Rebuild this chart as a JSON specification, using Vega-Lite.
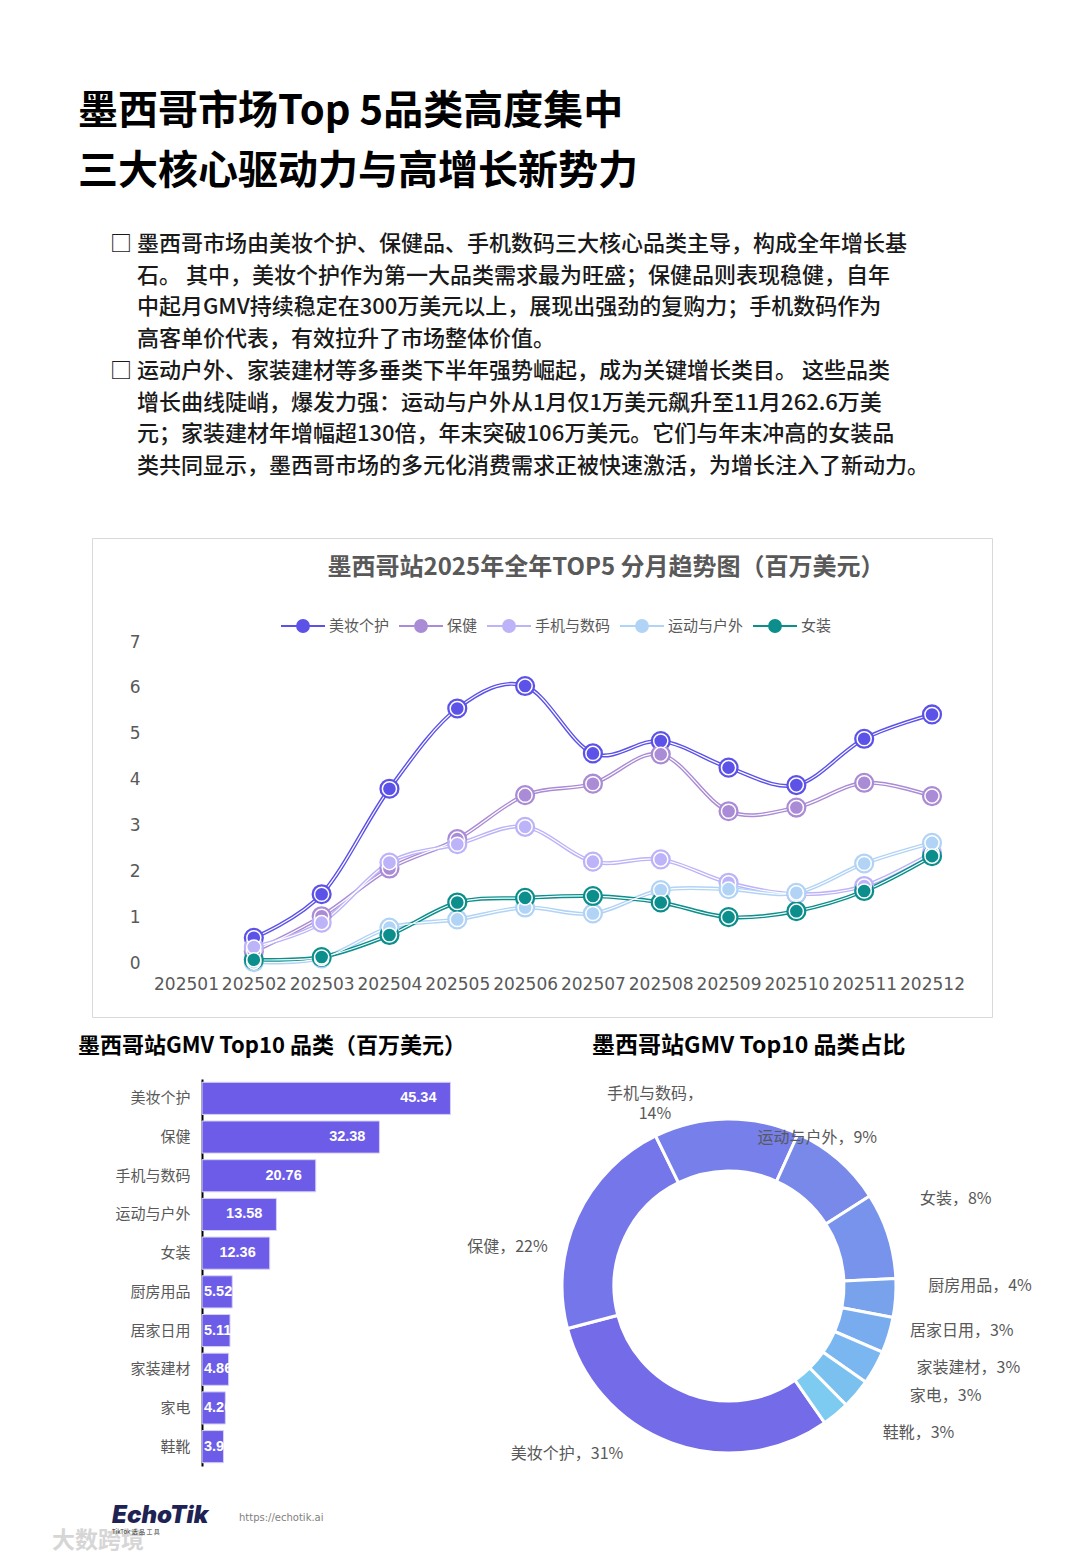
{
  "$schema": "https://vega.github.io/schema/vega-lite/v6.json",
  "background": "white",
  "padding": 0,
  "spacing": 0,
  "config": {
    "view": {"stroke": null},
    "font": "Noto Sans CJK SC",
    "title": {"font": "Noto Sans CJK SC", "subtitleFont": "Noto Sans CJK SC"},
    "axis": {"labelFont": "Noto Sans CJK SC"},
    "legend": {"labelFont": "Noto Sans CJK SC"},
    "text": {"fontSize": 16, "color": "#595959", "align": "center", "baseline": "middle"}
  },
  "datasets": {
    "lines": [
      {"month": "202502", "series": "美妆个护", "value": 0.55},
      {"month": "202503", "series": "美妆个护", "value": 1.5},
      {"month": "202504", "series": "美妆个护", "value": 3.8},
      {"month": "202505", "series": "美妆个护", "value": 5.55},
      {"month": "202506", "series": "美妆个护", "value": 6.04},
      {"month": "202507", "series": "美妆个护", "value": 4.57},
      {"month": "202508", "series": "美妆个护", "value": 4.84},
      {"month": "202509", "series": "美妆个护", "value": 4.26},
      {"month": "202510", "series": "美妆个护", "value": 3.88},
      {"month": "202511", "series": "美妆个护", "value": 4.89},
      {"month": "202512", "series": "美妆个护", "value": 5.42},
      {"month": "202502", "series": "保健", "value": 0.25},
      {"month": "202503", "series": "保健", "value": 1.02},
      {"month": "202504", "series": "保健", "value": 2.06},
      {"month": "202505", "series": "保健", "value": 2.7},
      {"month": "202506", "series": "保健", "value": 3.66},
      {"month": "202507", "series": "保健", "value": 3.91},
      {"month": "202508", "series": "保健", "value": 4.55},
      {"month": "202509", "series": "保健", "value": 3.31},
      {"month": "202510", "series": "保健", "value": 3.39},
      {"month": "202511", "series": "保健", "value": 3.93},
      {"month": "202512", "series": "保健", "value": 3.64},
      {"month": "202502", "series": "手机与数码", "value": 0.35},
      {"month": "202503", "series": "手机与数码", "value": 0.88},
      {"month": "202504", "series": "手机与数码", "value": 2.19},
      {"month": "202505", "series": "手机与数码", "value": 2.59},
      {"month": "202506", "series": "手机与数码", "value": 2.97},
      {"month": "202507", "series": "手机与数码", "value": 2.21},
      {"month": "202508", "series": "手机与数码", "value": 2.26},
      {"month": "202509", "series": "手机与数码", "value": 1.75},
      {"month": "202510", "series": "手机与数码", "value": 1.5},
      {"month": "202511", "series": "手机与数码", "value": 1.68},
      {"month": "202512", "series": "手机与数码", "value": 2.4},
      {"month": "202502", "series": "运动与户外", "value": 0.02},
      {"month": "202503", "series": "运动与户外", "value": 0.1},
      {"month": "202504", "series": "运动与户外", "value": 0.77},
      {"month": "202505", "series": "运动与户外", "value": 0.95},
      {"month": "202506", "series": "运动与户外", "value": 1.21},
      {"month": "202507", "series": "运动与户外", "value": 1.08},
      {"month": "202508", "series": "运动与户外", "value": 1.59},
      {"month": "202509", "series": "运动与户外", "value": 1.61},
      {"month": "202510", "series": "运动与户外", "value": 1.53},
      {"month": "202511", "series": "运动与户外", "value": 2.17},
      {"month": "202512", "series": "运动与户外", "value": 2.62},
      {"month": "202502", "series": "女装", "value": 0.07},
      {"month": "202503", "series": "女装", "value": 0.13},
      {"month": "202504", "series": "女装", "value": 0.61},
      {"month": "202505", "series": "女装", "value": 1.32},
      {"month": "202506", "series": "女装", "value": 1.42},
      {"month": "202507", "series": "女装", "value": 1.46},
      {"month": "202508", "series": "女装", "value": 1.32},
      {"month": "202509", "series": "女装", "value": 1.0},
      {"month": "202510", "series": "女装", "value": 1.13},
      {"month": "202511", "series": "女装", "value": 1.57},
      {"month": "202512", "series": "女装", "value": 2.33}
    ],
    "top10": [
      {"category": "美妆个护", "gmv": 45.34, "label": "美妆个护，31%"},
      {"category": "保健", "gmv": 32.38, "label": "保健，22%"},
      {"category": "手机与数码", "gmv": 20.76, "label": "手机与数码，\n14%"},
      {"category": "运动与户外", "gmv": 13.58, "label": "运动与户外，9%"},
      {"category": "女装", "gmv": 12.36, "label": "女装，8%"},
      {"category": "厨房用品", "gmv": 5.52, "label": "厨房用品，4%"},
      {"category": "居家日用", "gmv": 5.11, "label": "居家日用，3%"},
      {"category": "家装建材", "gmv": 4.86, "label": "家装建材，3%"},
      {"category": "家电", "gmv": 4.26, "label": "家电，3%"},
      {"category": "鞋靴", "gmv": 3.92, "label": "鞋靴，3%"}
    ]
  },
  "vconcat": [
    {
      "width": 1080,
      "height": 200,
      "data": {"values": [{}]},
      "mark": {"type": "point", "opacity": 0},
      "title": {
        "text": ["墨西哥市场Top 5品类高度集中", "三大核心驱动力与高增长新势力"],
        "anchor": "start", "frame": "group", "dx": 78, "offset": -192,
        "fontSize": 40, "fontWeight": "bold", "lineHeight": 60, "color": "#000000"
      }
    },
    {
      "width": 1080,
      "height": 337,
      "data": {"values": [{}]},
      "mark": {"type": "point", "opacity": 0},
      "title": {
        "text": [
          "□ 墨西哥市场由美妆个护、保健品、手机数码三大核心品类主导，构成全年增长基",
          "\u200b\u3000 石。 其中，美妆个护作为第一大品类需求最为旺盛；保健品则表现稳健，自年",
          "\u200b\u3000 中起月GMV持续稳定在300万美元以上，展现出强劲的复购力；手机数码作为",
          "\u200b\u3000 高客单价代表，有效拉升了市场整体价值。",
          "□ 运动户外、家装建材等多垂类下半年强势崛起，成为关键增长类目。 这些品类",
          "\u200b\u3000 增长曲线陡峭，爆发力强：运动与户外从1月仅1万美元飙升至11月262.6万美",
          "\u200b\u3000 元；家装建材年增幅超130倍，年末突破106万美元。它们与年末冲高的女装品",
          "\u200b\u3000 类共同显示，墨西哥市场的多元化消费需求正被快速激活，为增长注入了新动力。"
        ],
        "anchor": "start", "frame": "group", "dx": 110, "offset": -278,
        "fontSize": 22, "fontWeight": 500, "lineHeight": 31.7, "color": "#1a1a1a"
      }
    },
    {
      "bounds": "flush",
      "spacing": 0,
      "hconcat": [
        {
          "width": 92, "height": 497,
          "data": {"values": [{}]},
          "mark": {"type": "point", "opacity": 0}
        },
        {
          "width": 900,
          "height": 479,
          "view": {"stroke": "#d9d9d9", "strokeWidth": 1},
          "data": {"name": "lines"},
          "title": {
            "text": "墨西哥站2025年全年TOP5 分月趋势图（百万美元）",
            "anchor": "middle", "frame": "group", "dx": 64, "offset": -42,
            "fontSize": 24, "fontWeight": "bold", "color": "#595959"
          },
          "encoding": {
            "x": {
              "field": "month", "type": "ordinal",
              "scale": {"type": "point", "domain": ["202501", "202502", "202503", "202504", "202505", "202506", "202507", "202508", "202509", "202510", "202511", "202512"], "range": [94, 840], "padding": 0},
              "axis": {"orient": "bottom", "offset": -43, "title": null, "labelAngle": 0, "labelFont": "DejaVu Sans", "labelFontSize": 17, "labelColor": "#595959", "domain": false, "ticks": false, "grid": false, "labelPadding": 2, "labelOverlap": false}
            },
            "y": {
              "field": "value", "type": "quantitative",
              "scale": {"domain": [0, 7], "range": [425, 104], "nice": false, "zero": false},
              "axis": {"offset": -52, "values": [0, 1, 2, 3, 4, 5, 6, 7], "title": null, "labelFont": "DejaVu Sans", "labelFontSize": 17, "labelColor": "#595959", "domain": false, "ticks": false, "grid": false, "labelPadding": 4}
            }
          },
          "layer": [
            {
              "mark": {"type": "line", "interpolate": "cardinal", "strokeWidth": 4},
              "encoding": {
                "stroke": {
                  "field": "series", "type": "nominal",
                  "scale": {"domain": ["美妆个护", "保健", "手机与数码", "运动与户外", "女装"], "range": ["#5D52E8", "#AA8BD5", "#BCB3F8", "#B1D3F6", "#0B8E8C"]},
                  "legend": {"orient": "none", "legendX": 280, "legendY": 603, "direction": "horizontal", "title": null, "symbolType": "M-1,0H-0.27M0.27,0H1M0.27,0A0.27,0.27,0,1,1,-0.27,0A0.27,0.27,0,1,1,0.27,0Z", "symbolSize": 1936, "symbolStrokeWidth": 2, "labelOffset": 3, "columnPadding": 5, "labelFontSize": 15, "labelColor": "#595959"}
                }
              }
            },
            {
              "mark": {"type": "line", "interpolate": "cardinal", "strokeWidth": 1.2},
              "encoding": {
                "stroke": {"value": "white"},
                "detail": {"field": "series", "type": "nominal"}
              }
            },
            {
              "mark": {"type": "point", "filled": true, "size": 330, "opacity": 1},
              "encoding": {
                "fill": {
                  "field": "series", "type": "nominal",
                  "scale": {"domain": ["美妆个护", "保健", "手机与数码", "运动与户外", "女装"], "range": ["#5D52E8", "#AA8BD5", "#BCB3F8", "#B1D3F6", "#0B8E8C"]},
                  "legend": {"orient": "none", "legendX": 280, "legendY": 603, "direction": "horizontal", "title": null, "symbolType": "M-1,0H-0.27M0.27,0H1M0.27,0A0.27,0.27,0,1,1,-0.27,0A0.27,0.27,0,1,1,0.27,0Z", "symbolSize": 1936, "symbolStrokeWidth": 2, "labelOffset": 3, "columnPadding": 5, "labelFontSize": 15, "labelColor": "#595959"}
                },
                "stroke": {"field": "series", "type": "nominal"}
              }
            },
            {
              "mark": {"type": "point", "filled": true, "size": 200, "opacity": 1, "strokeWidth": 1.5},
              "encoding": {
                "fill": {"field": "series", "type": "nominal"},
                "stroke": {"value": "white"}
              }
            }
          ]
        }
      ]
    },
    {
      "bounds": "flush",
      "spacing": 0,
      "hconcat": [
        {
          "width": 202, "height": 414,
          "data": {"values": [{}]},
          "mark": {"type": "point", "opacity": 0}
        },
        {
          "width": 274,
          "height": 387,
          "data": {"name": "top10"},
          "title": {
            "text": "墨西哥站GMV Top10 品类（百万美元）",
            "anchor": "start", "frame": "group", "dx": -124, "offset": 21,
            "fontSize": 22, "fontWeight": "bold", "color": "#000000"
          },
          "encoding": {
            "y": {
              "field": "category", "type": "nominal", "sort": null,
              "scale": {"paddingInner": 0.17, "paddingOuter": 0.085},
              "axis": {"title": null, "labelFontSize": 15, "labelColor": "#595959", "labelPadding": 12, "ticks": false, "domainColor": "#000000", "domainWidth": 2}
            },
            "x": {"field": "gmv", "type": "quantitative", "scale": {"domain": [0, 50], "nice": false}, "axis": null}
          },
          "layer": [
            {"mark": {"type": "bar", "color": "#6C5CE7", "stroke": "#D6D0F7", "strokeWidth": 1}},
            {
              "mark": {"type": "text", "align": "right", "baseline": "middle", "dx": -14, "color": "white", "fontSize": 14.5, "fontWeight": "bold", "clip": true, "font": "Liberation Sans"},
              "encoding": {"text": {"condition": {"test": "datum.gmv > 10", "field": "gmv", "type": "quantitative", "format": ".2f"}, "value": ""}}
            },
            {
              "mark": {"type": "text", "align": "left", "baseline": "middle", "dx": 2, "color": "white", "fontSize": 14.5, "fontWeight": "bold", "clip": true, "font": "Liberation Sans"},
              "encoding": {
                "x": {"datum": 0, "type": "quantitative"},
                "text": {"condition": {"test": "datum.gmv <= 10", "field": "gmv", "type": "quantitative", "format": ".2f"}, "value": ""}
              }
            }
          ]
        },
        {
          "width": 86, "height": 414,
          "data": {"values": [{}]},
          "mark": {"type": "point", "opacity": 0}
        },
        {
          "width": 334,
          "height": 414,
          "data": {"name": "top10"},
          "transform": [
            {"stack": "gmv", "groupby": [], "sort": [{"field": "gmv", "order": "descending"}], "as": ["s0", "s1"]}
          ],
          "title": {
            "text": "墨西哥站GMV Top10 品类占比",
            "anchor": "start", "frame": "group", "dx": 30, "offset": 21,
            "fontSize": 23, "fontWeight": "bold", "color": "#000000"
          },
          "layer": [
            {
              "mark": {"type": "arc", "innerRadius": 115, "outerRadius": 167, "stroke": "white", "strokeWidth": 3},
              "encoding": {
                "theta": {"field": "s0", "type": "quantitative", "scale": {"domain": [0, 148.09], "range": [2.531, 8.814], "nice": false, "zero": true}},
                "theta2": {"field": "s1"},
                "color": {
                  "field": "category", "type": "nominal", "sort": null,
                  "scale": {"domain": ["美妆个护", "保健", "手机与数码", "运动与户外", "女装", "厨房用品", "居家日用", "家装建材", "家电", "鞋靴"], "range": ["#746BE9", "#7576EA", "#767FEA", "#7889EA", "#7893EB", "#78A2EC", "#79ACEE", "#7AB6EF", "#7BC1F0", "#7DCBF0"]},
                  "legend": null
                }
              }
            },
            {
              "transform": [{"filter": {"field": "category", "equal": "美妆个护"}}],
              "mark": {"type": "text", "radius": 233, "thetaOffset": 1.379},
              "encoding": {"theta": {"field": "s0", "type": "quantitative"}, "text": {"field": "label", "type": "nominal"}}
            },
            {
              "transform": [{"filter": {"field": "category", "equal": "保健"}}],
              "mark": {"type": "text", "radius": 225, "thetaOffset": 0.432},
              "encoding": {"theta": {"field": "s0", "type": "quantitative"}, "text": {"field": "label", "type": "nominal"}}
            },
            {
              "transform": [{"filter": {"field": "category", "equal": "手机与数码"}}],
              "mark": {"type": "text", "radius": 206, "thetaOffset": 0.087, "lineBreak": "\n", "lineHeight": 20},
              "encoding": {"theta": {"field": "s0", "type": "quantitative"}, "text": {"field": "label", "type": "nominal"}}
            },
            {
              "transform": [{"filter": {"field": "category", "equal": "运动与户外"}}],
              "mark": {"type": "text", "radius": 172, "thetaOffset": 0.113},
              "encoding": {"theta": {"field": "s0", "type": "quantitative"}, "text": {"field": "label", "type": "nominal"}}
            },
            {
              "transform": [{"filter": {"field": "category", "equal": "女装"}}],
              "mark": {"type": "text", "radius": 243, "thetaOffset": 0.201},
              "encoding": {"theta": {"field": "s0", "type": "quantitative"}, "text": {"field": "label", "type": "nominal"}}
            },
            {
              "transform": [{"filter": {"field": "category", "equal": "厨房用品"}}],
              "mark": {"type": "text", "radius": 251, "thetaOffset": 0.044},
              "encoding": {"theta": {"field": "s0", "type": "quantitative"}, "text": {"field": "label", "type": "nominal"}}
            },
            {
              "transform": [{"filter": {"field": "category", "equal": "居家日用"}}],
              "mark": {"type": "text", "radius": 237, "thetaOffset": 0.0},
              "encoding": {"theta": {"field": "s0", "type": "quantitative"}, "text": {"field": "label", "type": "nominal"}}
            },
            {
              "transform": [{"filter": {"field": "category", "equal": "家装建材"}}],
              "mark": {"type": "text", "radius": 253, "thetaOffset": -0.077},
              "encoding": {"theta": {"field": "s0", "type": "quantitative"}, "text": {"field": "label", "type": "nominal"}}
            },
            {
              "transform": [{"filter": {"field": "category", "equal": "家电"}}],
              "mark": {"type": "text", "radius": 243, "thetaOffset": -0.143},
              "encoding": {"theta": {"field": "s0", "type": "quantitative"}, "text": {"field": "label", "type": "nominal"}}
            },
            {
              "transform": [{"filter": {"field": "category", "equal": "鞋靴"}}],
              "mark": {"type": "text", "radius": 240, "thetaOffset": -0.133},
              "encoding": {"theta": {"field": "s0", "type": "quantitative"}, "text": {"field": "label", "type": "nominal"}}
            }
          ]
        }
      ]
    },
    {
      "bounds": "flush",
      "spacing": 0,
      "hconcat": [
        {
          "width": 112, "height": 68,
          "data": {"values": [{}]},
          "mark": {"type": "point", "opacity": 0},
          "title": {"text": "大数跨境", "anchor": "start", "frame": "group", "dx": 52, "offset": -60, "fontSize": 23, "fontWeight": "bold", "color": "#d6d6d6"}
        },
        {
          "width": 127, "height": 68,
          "data": {"values": [{}]},
          "mark": {"type": "point", "opacity": 0},
          "title": {"text": "EchoTik", "subtitle": "TikTok 选 品 工 具", "anchor": "start", "frame": "group", "dx": 0, "offset": -42, "font": "Inter", "fontSize": 24, "fontWeight": 900, "fontStyle": "italic", "color": "#1e2354", "subtitleFontSize": 6, "subtitleColor": "#333333", "subtitlePadding": 1}
        },
        {
          "width": 841, "height": 68,
          "data": {"values": [{}]},
          "mark": {"type": "point", "opacity": 0},
          "title": {"text": "https://echotik.ai", "anchor": "start", "frame": "group", "dx": 0, "offset": -30, "font": "DejaVu Sans", "fontSize": 10, "fontWeight": "normal", "color": "#7f7f7f"}
        }
      ]
    }
  ]
}
